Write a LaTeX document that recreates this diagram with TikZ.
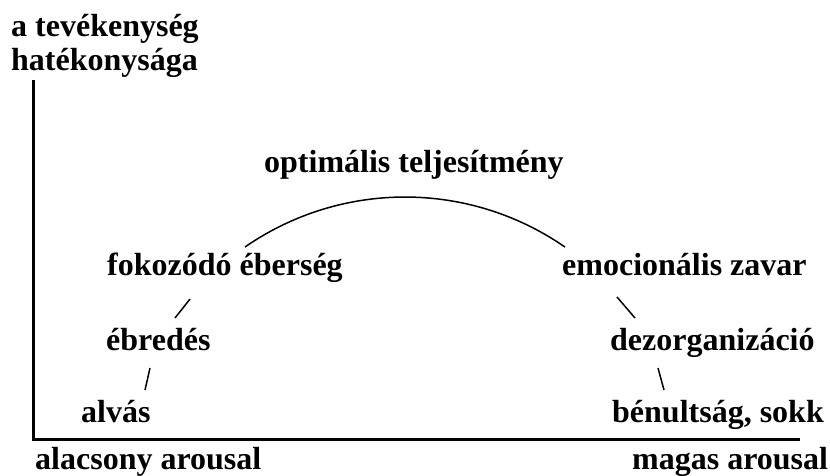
\documentclass[tikz,border=0pt]{standalone}
\usepackage{fontspec}
\setmainfont{Liberation Serif}
\begin{document}
\begin{tikzpicture}[x=1pt,y=-1pt,
  lbl/.style={anchor=base west,inner sep=0pt,font=\fontsize{32}{34}\selectfont\bfseries},
  axis/.style={line width=3pt},
  conn/.style={line width=1.5pt}]
\useasboundingbox[fill=white] (0,0) rectangle (830,475);
% axes
\coordinate (top) at (33,80);
\coordinate (orig) at (33,439);
\coordinate (xend) at (800,439);
\draw[axis] (top) -- (orig) -- (xend);
% labels
\node[lbl] (ylab1) at (11,36) {a tevékenység};
\node[lbl] (ylab2) at (11,70) {hatékonysága};
\node[lbl] (low) at (35,469) {alacsony arousal};
\node[lbl] (high) at (632,469) {magas arousal};
\node[lbl] (alvas) at (81,422) {alvás};
\node[lbl] (ebredes) at (106,350) {ébredés};
\node[lbl] (fokozodo) at (107,275) {fokozódó éberség};
\node[lbl] (optimal) at (264,172) {optimális teljesítmény};
\node[lbl] (emoc) at (562,275) {emocionális zavar};
\node[lbl] (dezorg) at (610,350) {dezorganizáció};
\node[lbl] (benult) at (612,422) {bénultság, sokk};
% connectors
\coordinate (a1) at (145,390); \coordinate (a2) at (150,368);
\coordinate (b1) at (175,318); \coordinate (b2) at (190,299);
\coordinate (c1) at (617,297); \coordinate (c2) at (635,318);
\coordinate (d1) at (658,368); \coordinate (d2) at (664,390);
\draw[conn] (a1) -- (a2);
\draw[conn] (b1) -- (b2);
\draw[conn] (c1) -- (c2);
\draw[conn] (d1) -- (d2);
\coordinate (arcstart) at (245,247);
\draw[conn] (arcstart) arc[start angle=-124.7,end angle=-55.3,radius=281];
\end{tikzpicture}
\end{document}
